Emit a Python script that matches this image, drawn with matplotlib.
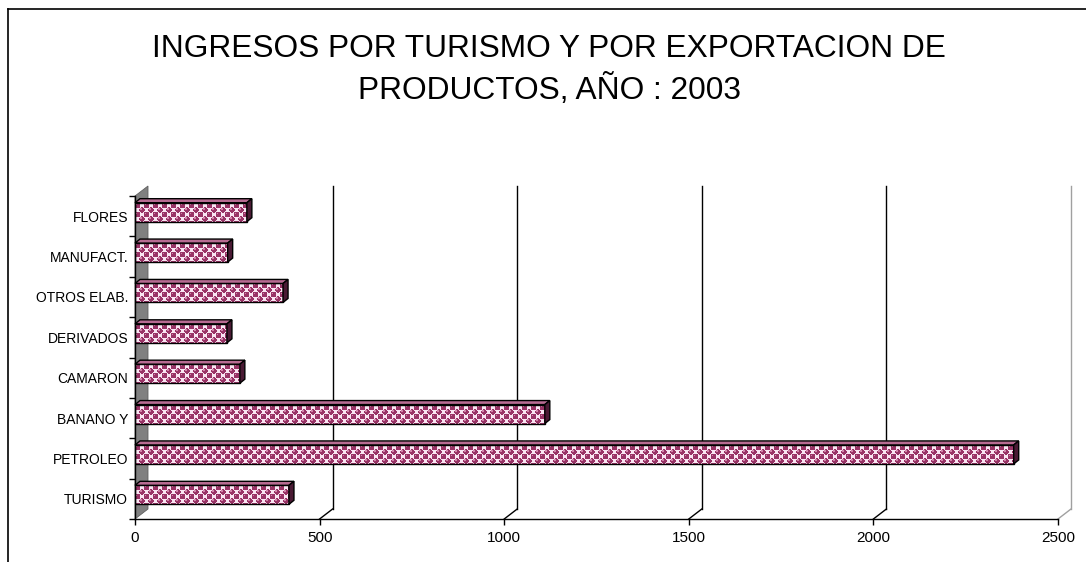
import numpy as np
import matplotlib
matplotlib.use("Agg")
import matplotlib.pyplot as plt
from matplotlib.patches import Polygon
from matplotlib.lines import Line2D

plt.rcParams['font.family'] = ['Liberation Sans', 'DejaVu Sans']

categories = ['TURISMO', 'PETROLEO', 'BANANO Y', 'CAMARON', 'DERIVADOS',
              'OTROS ELAB.', 'MANUFACT.', 'FLORES']
values = [417, 2380, 1110, 284, 249, 401, 251, 303]
xticks = [0, 500, 1000, 1500, 2000, 2500]
title = 'INGRESOS POR TURISMO Y POR EXPORTACION DE\nPRODUCTOS, AÑO : 2003'

W, H = 1086, 562
fig = plt.figure(figsize=(W / 100, H / 100), dpi=100)
ax = fig.add_axes([135 / W, 43 / H, 923 / W, 323 / H])

xmax = 2500
n = len(categories)

# pixel -> data conversion
px_x = xmax / 923.0
px_y = n / 323.0


def sphere_texture(h, w, period=9):
    # excel-like "sphere" fill: staggered purple dots on a pale pink ground
    yy, xx = np.mgrid[0:h, 0:w]
    base = np.array([0.98, 0.90, 0.95])
    dot = np.array([0.60, 0.20, 0.40])
    hi = np.array([0.82, 0.52, 0.67])
    img = np.ones((h, w, 3)) * base
    half = period / 2
    for cx0, cy0 in [(2, 2), (2 + half, 2 + half)]:
        dx = (xx - cx0 + half) % period - half
        dy = (yy - cy0 + half) % period - half
        img[np.hypot(dx, dy) < 2.9] = dot
        img[np.hypot(dx + 1, dy + 1) < 1.0] = hi
    return img


# gray side wall
ybot, ytop = -0.5, n - 0.5
wdx, wdy = 13 * px_x, 10 * px_y
ax.add_patch(Polygon([(0, ybot), (wdx, ybot + wdy), (wdx, ytop + wdy), (0, ytop)],
                     closed=True, facecolor='#808080', edgecolor='#606060',
                     lw=0.6, clip_on=False, zorder=1))

# back wall grid lines + floor diagonals
for xv in xticks[1:]:
    c = '#a0a0a0' if xv == xmax else 'black'
    ax.add_line(Line2D([xv + wdx, xv + wdx], [ybot + wdy, ytop + wdy], color=c,
                       lw=1.0, clip_on=False, zorder=1))
    ax.add_line(Line2D([xv, xv + wdx], [ybot, ybot + wdy], color=c,
                       lw=1.0, clip_on=False, zorder=1))

# bars: front face (textured), top face, end face
bh = 19 * px_y
bdx, bdy = 5 * px_x, 4 * px_y
shift = 4 * px_y
ypos = np.arange(n) + shift
bars = ax.barh(ypos, values, height=bh, left=0, facecolor='none',
               edgecolor='black', lw=1.0, zorder=4)
for rect, y, v in zip(bars, ypos, values):
    y0, y1 = y - bh / 2, y + bh / 2
    wpx = max(int(round(v / px_x)), 1)
    tex = sphere_texture(19, wpx)
    im = ax.imshow(tex, extent=(0, v, y0, y1), origin='upper',
                   interpolation='nearest', aspect='auto', zorder=3)
    im.set_clip_path(rect)
    top = [(0, y1), (v, y1), (v + bdx, y1 + bdy), (bdx, y1 + bdy)]
    end = [(v, y0), (v, y1), (v + bdx, y1 + bdy), (v + bdx, y0 + bdy)]
    ax.add_patch(Polygon(top, closed=True, facecolor='#b86b92', edgecolor='black',
                         lw=1.0, zorder=4, clip_on=False))
    ax.add_patch(Polygon(end, closed=True, facecolor='#4a1a34', edgecolor='black',
                         lw=1.0, zorder=4, clip_on=False))

ax.set_xlim(0, xmax)
ax.set_ylim(-0.5, n - 0.5)

# axes styling
for s in ['top', 'right']:
    ax.spines[s].set_visible(False)
for s in ['left', 'bottom']:
    ax.spines[s].set_color('black')
    ax.spines[s].set_linewidth(1.0)
    ax.spines[s].set_zorder(5)
ax.set_facecolor('none')

ax.set_xticks(xticks)
ax.set_xticklabels([str(t) for t in xticks], fontsize=11)
ax.tick_params(axis='x', direction='out', length=4, width=1, pad=5, colors='black')

ax.set_yticks(np.arange(n))
ax.set_yticklabels(categories, fontsize=10)
ax.set_yticks(np.arange(n + 1) - 0.5, minor=True)
ax.tick_params(axis='y', which='major', length=0, pad=5)
ax.tick_params(axis='y', which='minor', direction='out', length=4, width=1)

# title
fig.text(549 / W, 1 - 70 / H, title, ha='center', va='center',
         fontsize=22.8, linespacing=1.4)

# outer frame (left and top edges)
fig.add_artist(Line2D([8 / W, 8 / W], [0, 1 - 9 / H], color='black', lw=1.2,
                      transform=fig.transFigure))
fig.add_artist(Line2D([8 / W, 1], [1 - 9 / H, 1 - 9 / H], color='black', lw=1.2,
                      transform=fig.transFigure))

fig.savefig('out.png', dpi=100)
